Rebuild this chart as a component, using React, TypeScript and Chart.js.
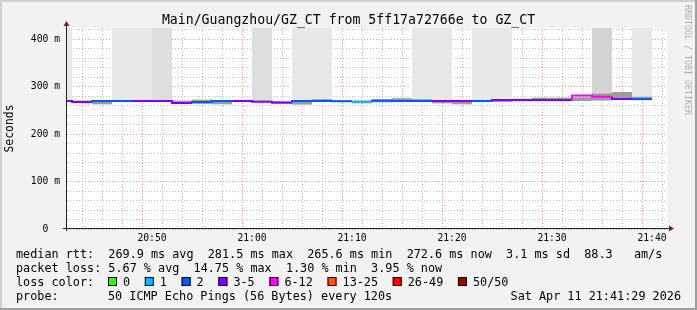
import React, { useEffect, useRef } from "react";
import { Chart, registerables } from "chart.js";

Chart.register(...registerables);

// ---- data ----
// start minute (after 20:00) of each 2-minute bin
const binStartMin = [40, 42, 44, 46, 48, 50, 52, 54, 56, 58, 60, 62, 64, 66, 68, 70, 72, 74, 76, 78, 80, 82, 84, 86, 88, 90, 92, 94, 96, 98];
// median rtt per bin (ms)
const medianMs = [270, 270, 268, 270, 270, 270, 270, 265.6, 268, 270, 270, 268.5, 266.5, 270, 270, 269.5, 269, 270.5, 270, 270, 270, 270, 270, 272, 272, 272, 272, 281.5, 279, 274];
// lost pings (of 50) per bin
const lostPings = [3, 3, 2, 2, 3, 3, 3, 2, 2, 3, 3, 3, 2, 2, 2, 1, 2, 2, 2, 3, 3, 2, 3, 3, 3, 3, 7, 7, 3, 2];
// smoke spread near the median (ms)
const smokeLowMs = [268, 268, 263, 268, 268, 268, 268, 264, 263, 268, 268, 267, 262.5, 268, 268, 265, 267, 268, 268, 265, 263, 268, 268, 270, 270, 270, 270, 271, 274, 272];
const smokeHighMs = [271, 271, 269, 271, 271, 271, 271, 273, 269, 271, 271, 270, 268, 274, 272, 270, 274, 276, 274, 271, 271, 272, 272, 275, 277, 277, 278, 286, 289, 279];
// outlier pings above the top of the chart (ms): highest, 2nd and 3rd highest
const spikeTop1 = [612, null, null, 540, 705, 880, null, null, null, null, 760, null, 530, 610, null, null, null, null, 590, 670, null, 560, 720, null, null, null, null, 950, null, 640];
const spikeTop2 = [null, null, null, null, null, 610, null, null, null, null, 530, null, null, null, null, null, null, null, null, null, null, null, null, null, null, null, null, 780, null, null];
const spikeTop3 = [null, null, null, null, null, null, null, null, null, null, null, null, null, null, null, null, null, null, null, null, null, null, null, null, null, null, null, 600, null, null];

const xLabelMinutes = [50, 60, 70, 80, 90, 100];
const xLabelTexts = ["20:50", "21:00", "21:10", "21:20", "21:30", "21:40"];
const yLabelValues = [0, 100, 200, 300, 400];
const yLabelTexts = ["0  ", "100 m", "200 m", "300 m", "400 m"];

const lossLabels = ["0", "1", "2", "3-5", "6-12", "13-25", "26-49", "50/50"];
const lossLowerBounds = [0, 1, 2, 3, 6, 13, 26, 50];

const titleText = "Main/Guangzhou/GZ_CT from 5ff17a72766e to GZ_CT";
const medianStats = ["269.9 ms avg", "281.5 ms max", "265.6 ms min", "272.6 ms now", "3.1 ms sd", "88.3   am/s"];
const lossStats = ["5.67 % avg", "14.75 % max", "1.30 % min", "3.95 % now"];
const probeText = "50 ICMP Echo Pings (56 Bytes) every 120s";
const dateText = "Sat Apr 11 21:41:29 2026";
const watermark = "RRDTOOL / TOBI OETIKER";

// ---- styles ----
const LOSS_COLORS = ["#26ff00", "#00b8ff", "#0059ff", "#7e00ff", "#ff00ff", "#ff5500", "#ff0000", "#a10000"];
const MONO = '"DejaVu Sans Mono", monospace';
const W = 697;
const H = 310;

function lossColor(n: number): string {
  let idx = 0;
  for (let i = 0; i < lossLowerBounds.length; i++) if (n >= lossLowerBounds[i]) idx = i;
  return LOSS_COLORS[idx];
}

const rrdDecor = {
  id: "rrdDecor",
  beforeDraw(chart: any) {
    const { ctx, chartArea: a } = chart;
    ctx.save();
    ctx.fillStyle = "#f2f2f2";
    ctx.fillRect(0, 0, W, H);
    ctx.fillStyle = "#cfcfcf";
    ctx.fillRect(0, 0, W, 2);
    ctx.fillRect(0, 0, 2, H);
    ctx.fillStyle = "#9e9e9e";
    ctx.fillRect(0, H - 2, W, 2);
    ctx.fillRect(W - 2, 0, 2, H);
    ctx.fillStyle = "#ffffff";
    ctx.fillRect(a.left, a.top, a.right - a.left, a.bottom - a.top);
    ctx.restore();
  },
  afterDraw(chart: any) {
    const { ctx, chartArea: a } = chart;
    ctx.save();
    // axes
    const ax = a.left - 0.5;
    const ay = a.bottom - 0.5;
    ctx.strokeStyle = "#1f1f1f";
    ctx.lineWidth = 1;
    ctx.beginPath();
    ctx.moveTo(ax, a.bottom + 2);
    ctx.lineTo(ax, a.top - 2);
    ctx.moveTo(a.left - 4, ay);
    ctx.lineTo(a.right + 2, ay);
    ctx.stroke();
    ctx.fillStyle = "#801f1f";
    ctx.beginPath();
    ctx.moveTo(ax, a.top - 7);
    ctx.lineTo(ax - 3, a.top - 2);
    ctx.lineTo(ax + 3, a.top - 2);
    ctx.closePath();
    ctx.fill();
    ctx.beginPath();
    ctx.moveTo(a.right + 7, ay);
    ctx.lineTo(a.right + 2, ay - 3);
    ctx.lineTo(a.right + 2, ay + 3);
    ctx.closePath();
    ctx.fill();

    // title
    ctx.fillStyle = "#000";
    ctx.font = `13.2px ${MONO}`;
    ctx.textAlign = "center";
    ctx.textBaseline = "alphabetic";
    ctx.fillText(titleText, W / 2, 24);

    // watermark
    ctx.save();
    ctx.translate(687, 5);
    ctx.rotate(Math.PI / 2);
    ctx.font = `8.3px ${MONO}`;
    ctx.fillStyle = "rgba(0,0,0,0.3)";
    ctx.textAlign = "left";
    ctx.textBaseline = "middle";
    ctx.fillText(watermark, 0, 0);
    ctx.restore();

    // legend
    ctx.font = `11.8px ${MONO}`;
    ctx.textAlign = "left";
    ctx.textBaseline = "alphabetic";
    ctx.fillStyle = "#000";
    const col0 = 16;
    const col1 = 108;
    ctx.fillText("median rtt:  " + medianStats.join("  "), col0, 258);
    ctx.fillText("packet loss: " + lossStats.join("  "), col0, 272);
    ctx.fillText("loss color:", col0, 286);
    let x = col1;
    const by = 286;
    lossLabels.forEach((lab, i) => {
      ctx.fillStyle = LOSS_COLORS[i];
      ctx.fillRect(x, by - 9, 9, 9);
      ctx.strokeStyle = "#000";
      ctx.lineWidth = 1;
      ctx.strokeRect(x + 0.5, by - 8.5, 8, 8);
      ctx.fillStyle = "#000";
      ctx.fillText(lab, x + 15, by);
      x += 15 + ctx.measureText(lab).width + 14.7;
    });
    ctx.fillText("probe:", col0, 300);
    ctx.fillText(probeText, col1, 300);
    ctx.textAlign = "right";
    ctx.fillText(dateText, 681, 300);
    ctx.restore();
  },
};

export default function App() {
  const ref = useRef<HTMLCanvasElement | null>(null);

  useEffect(() => {
    document.body.style.margin = "0";
    const canvas = ref.current;
    if (!canvas) return;

    const binWidth = binStartMin[1] - binStartMin[0];
    const lastIdx = binStartMin.length - 1;

    const lineData = binStartMin.map((s, i) => ({ x: s, y: medianMs[i] }));
    lineData.push({ x: binStartMin[lastIdx] + binWidth, y: medianMs[lastIdx] });

    const barSeries = (lo: (number | null)[], hi: (number | null)[]) =>
      binStartMin.map((s, i) => ({
        x: s + binWidth / 2,
        y: lo[i] == null || hi[i] == null ? null : [lo[i], hi[i]],
      }));

    const barCommon = {
      type: "bar" as const,
      grouped: false,
      barPercentage: 1,
      categoryPercentage: 1,
      borderWidth: 0,
      inflateAmount: 0,
      clip: 0,
    };

    const gridX: number[] = [];
    for (let m = 42; m <= 100; m += 2) gridX.push(m);
    const gridY: number[] = [];
    for (let v = 0; v <= 420; v += 20) gridY.push(v);

    const gridColor = (major: boolean) => (major ? "rgba(222,79,79,0.6)" : "rgba(143,143,143,0.6)");

    const chart = new Chart(canvas, {
      type: "bar",
      data: {
        datasets: [
          {
            type: "line",
            data: lineData,
            stepped: "after",
            borderWidth: 2,
            pointRadius: 0,
            borderColor: LOSS_COLORS[3],
            borderCapStyle: "butt",
            borderJoinStyle: "miter",
            fill: false,
            clip: 0,
            segment: {
              borderColor: (c: any) => lossColor(lostPings[Math.min(c.p0DataIndex, lastIdx)]),
            },
          } as any,
          { ...barCommon, data: barSeries(smokeLowMs, smokeHighMs), backgroundColor: "#9c9c9c" } as any,
          { ...barCommon, data: barSeries(smokeHighMs, spikeTop3), backgroundColor: "#d4d4d4" } as any,
          { ...barCommon, data: barSeries(smokeHighMs, spikeTop2), backgroundColor: "#dedede" } as any,
          { ...barCommon, data: barSeries(smokeHighMs, spikeTop1), backgroundColor: "#e8e8e8" } as any,
        ],
      },
      options: {
        responsive: false,
        animation: false,
        devicePixelRatio: 1,
        events: [],
        layout: { padding: { left: 0, top: 28, right: 30, bottom: 0 } },
        plugins: { legend: { display: false }, tooltip: { enabled: false }, title: { display: false } },
        scales: {
          x: {
            type: "linear",
            min: 41.5,
            max: 101.5,
            z: 1,
            offset: false,
            afterBuildTicks: (s: any) => {
              s.ticks = gridX.map((v) => ({ value: v }));
            },
            afterFit: (s: any) => {
              s.height = 81;
            },
            ticks: {
              autoSkip: false,
              maxRotation: 0,
              padding: 4,
              color: "#000",
              font: { family: MONO, size: 9.7 },
              callback: (v: any) => {
                const i = xLabelMinutes.indexOf(Number(v));
                return i >= 0 ? xLabelTexts[i] : "";
              },
            },
            grid: {
              drawTicks: false,
              lineWidth: 1,
              color: (c: any) => gridColor(c.tick && xLabelMinutes.includes(c.tick.value)),
            },
            border: { display: false, dash: [1, 2] },
          },
          y: {
            type: "linear",
            min: 0,
            max: 424,
            z: 1,
            afterBuildTicks: (s: any) => {
              s.ticks = gridY.map((v) => ({ value: v }));
            },
            afterFit: (s: any) => {
              s.width = 67;
            },
            ticks: {
              autoSkip: false,
              padding: 7,
              color: "#000",
              font: { family: MONO, size: 9.7 },
              callback: (v: any) => {
                const i = yLabelValues.indexOf(Number(v));
                return i >= 0 ? yLabelTexts[i] : "";
              },
            },
            grid: {
              drawTicks: false,
              lineWidth: 1,
              color: (c: any) => gridColor(c.tick && yLabelValues.includes(c.tick.value)),
            },
            border: { display: false, dash: [1, 2] },
            title: {
              display: true,
              text: "Seconds",
              color: "#000",
              font: { family: MONO, size: 11.4 },
              padding: { top: 3.5, bottom: 0 },
            },
          },
        },
      } as any,
      plugins: [rrdDecor],
    });

    return () => chart.destroy();
  }, []);

  return <canvas ref={ref} width={W} height={H} style={{ display: "block", width: W, height: H }} />;
}
